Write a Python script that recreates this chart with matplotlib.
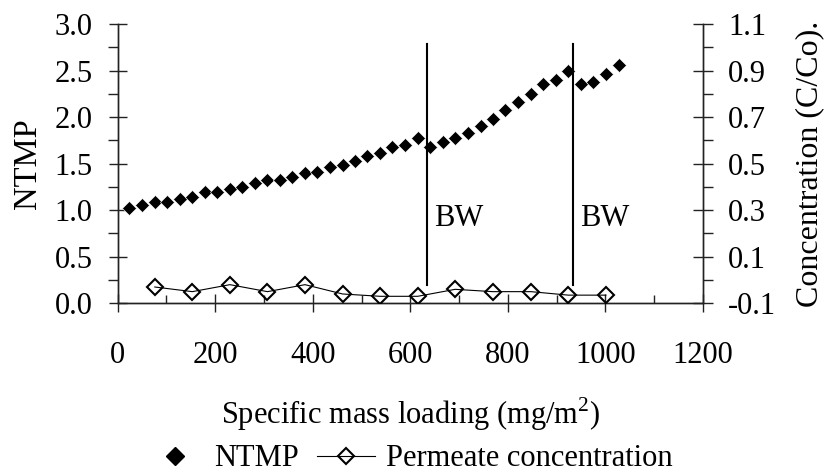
import matplotlib
matplotlib.use("Agg")
import matplotlib.pyplot as plt
from matplotlib.lines import Line2D
from matplotlib.ticker import MultipleLocator, FixedLocator, FormatStrFormatter

plt.rcParams['font.family'] = ['Liberation Serif', 'DejaVu Serif']
plt.rcParams['mathtext.fontset'] = 'custom'
plt.rcParams['mathtext.rm'] = 'Liberation Serif'
plt.rcParams['axes.unicode_minus'] = False

# NTMP versus specific mass loading (mg/m2)
ntmp_x = [24, 50, 76, 101, 127, 153, 178, 204, 230, 255,
          281, 307, 332, 358, 384, 409, 435, 461, 486, 512,
          538, 563, 589, 615, 641, 666, 692, 718, 744, 769,
          795, 821, 847, 872, 898, 924, 949, 975, 1001, 1027]
ntmp_y = [1.02, 1.06, 1.09, 1.09, 1.12, 1.14, 1.19, 1.20, 1.23, 1.25,
          1.29, 1.32, 1.32, 1.36, 1.40, 1.41, 1.46, 1.49, 1.53, 1.58,
          1.61, 1.68, 1.70, 1.78, 1.68, 1.73, 1.78, 1.83, 1.90, 1.98,
          2.08, 2.16, 2.25, 2.35, 2.40, 2.49, 2.35, 2.38, 2.46, 2.56]

# Permeate concentration (C/Co)
perm_x = [76, 153, 230, 307, 384, 461, 538, 615, 692, 769, 847, 924, 1001]
perm_y = [-0.03, -0.05, -0.02, -0.05, -0.02, -0.06, -0.07, -0.07,
          -0.04, -0.05, -0.05, -0.065, -0.065]

# Right axis ticks
conc_major = [-0.1, 0.1, 0.3, 0.5, 0.7, 0.9, 1.1]
conc_minor = [0.0, 0.2, 0.4, 0.6, 0.8, 1.0]

# Backwash events
bw_x = [635, 934]
bw_span = [0.20, 2.78]
bw_label = "BW"
bw_label_y = 0.91

fig = plt.figure(figsize=(8.25, 4.73), dpi=100)
ax = fig.add_axes([0.1427, 0.3588, 0.7094, 0.5905])
ax2 = ax.twinx()

fs = 22

ax.plot(ntmp_x, ntmp_y, ls='none', marker='D', ms=7.4, mfc='black',
        mec='white', mew=0.4, color='black', zorder=3)
for bx in bw_x:
    ax.plot([bx, bx], bw_span, color='black', lw=1.5, zorder=4)
    ax.text(bx + 14, bw_label_y, bw_label, fontsize=fs, va='center', ha='left')

ax2.plot(perm_x, perm_y, color='black', lw=0.8, marker='D', ms=8,
         mfc='none', mec='black', mew=1.5, zorder=3)

ax.set_xlim(0, 1200)
ax.set_ylim(0, 3.0)
ax2.set_ylim(-0.1, 1.1)

ax.xaxis.set_major_locator(MultipleLocator(200))
ax.xaxis.set_minor_locator(MultipleLocator(100))
ax.yaxis.set_major_locator(MultipleLocator(0.5))
ax.yaxis.set_minor_locator(MultipleLocator(0.25))
ax.yaxis.set_major_formatter(FormatStrFormatter('%.1f'))
ax2.yaxis.set_major_locator(FixedLocator(conc_major))
ax2.yaxis.set_minor_locator(FixedLocator(conc_minor))
ax2.yaxis.set_major_formatter(FormatStrFormatter('%.1f'))

axis_col = '#222222'
for a in (ax, ax2):
    a.spines['top'].set_visible(False)
    for s in ('left', 'right', 'bottom'):
        a.spines[s].set_color(axis_col)
        a.spines[s].set_linewidth(1.0)

ax.tick_params(axis='x', which='major', direction='inout', length=13,
               width=1, colors=axis_col, labelcolor='black', labelsize=fs, pad=21)
ax.tick_params(axis='x', which='minor', direction='in', length=5.8,
               width=1, colors=axis_col)
ax.tick_params(axis='y', which='major', direction='inout', length=13,
               width=1, colors=axis_col, labelcolor='black', labelsize=fs, pad=11.5)
ax.tick_params(axis='y', which='minor', direction='out', length=7.2,
               width=1, colors=axis_col)
ax2.tick_params(axis='y', which='major', direction='inout', length=14.4,
                width=1, colors=axis_col, labelcolor='black', labelsize=fs, pad=10.8)
ax2.tick_params(axis='y', which='minor', direction='out', length=7.2,
                width=1, colors=axis_col)

ax.set_ylabel('NTMP', fontsize=23.5, labelpad=8)
ax2.set_ylabel('Concentration (C/Co).', fontsize=23, labelpad=14)
ax.set_xlabel('Specific mass loading (mg/m$^{\\mathregular{2}}$)', fontsize=fs, labelpad=18)

handles = [
    Line2D([], [], ls='none', marker='D', ms=9, mfc='black', mec='black', color='black'),
    Line2D([], [], color='black', lw=0.8, marker='D', ms=8, mfc='none',
           mec='black', mew=1.5),
]
fig.legend(handles, ['NTMP', 'Permeate concentration'], loc='center',
           bbox_to_anchor=(0.496, 0.03), ncol=2, frameon=False, fontsize=fs,
           handlelength=1.9, handletextpad=0.35, columnspacing=0.6)

fig.savefig('out.png', dpi=100)
